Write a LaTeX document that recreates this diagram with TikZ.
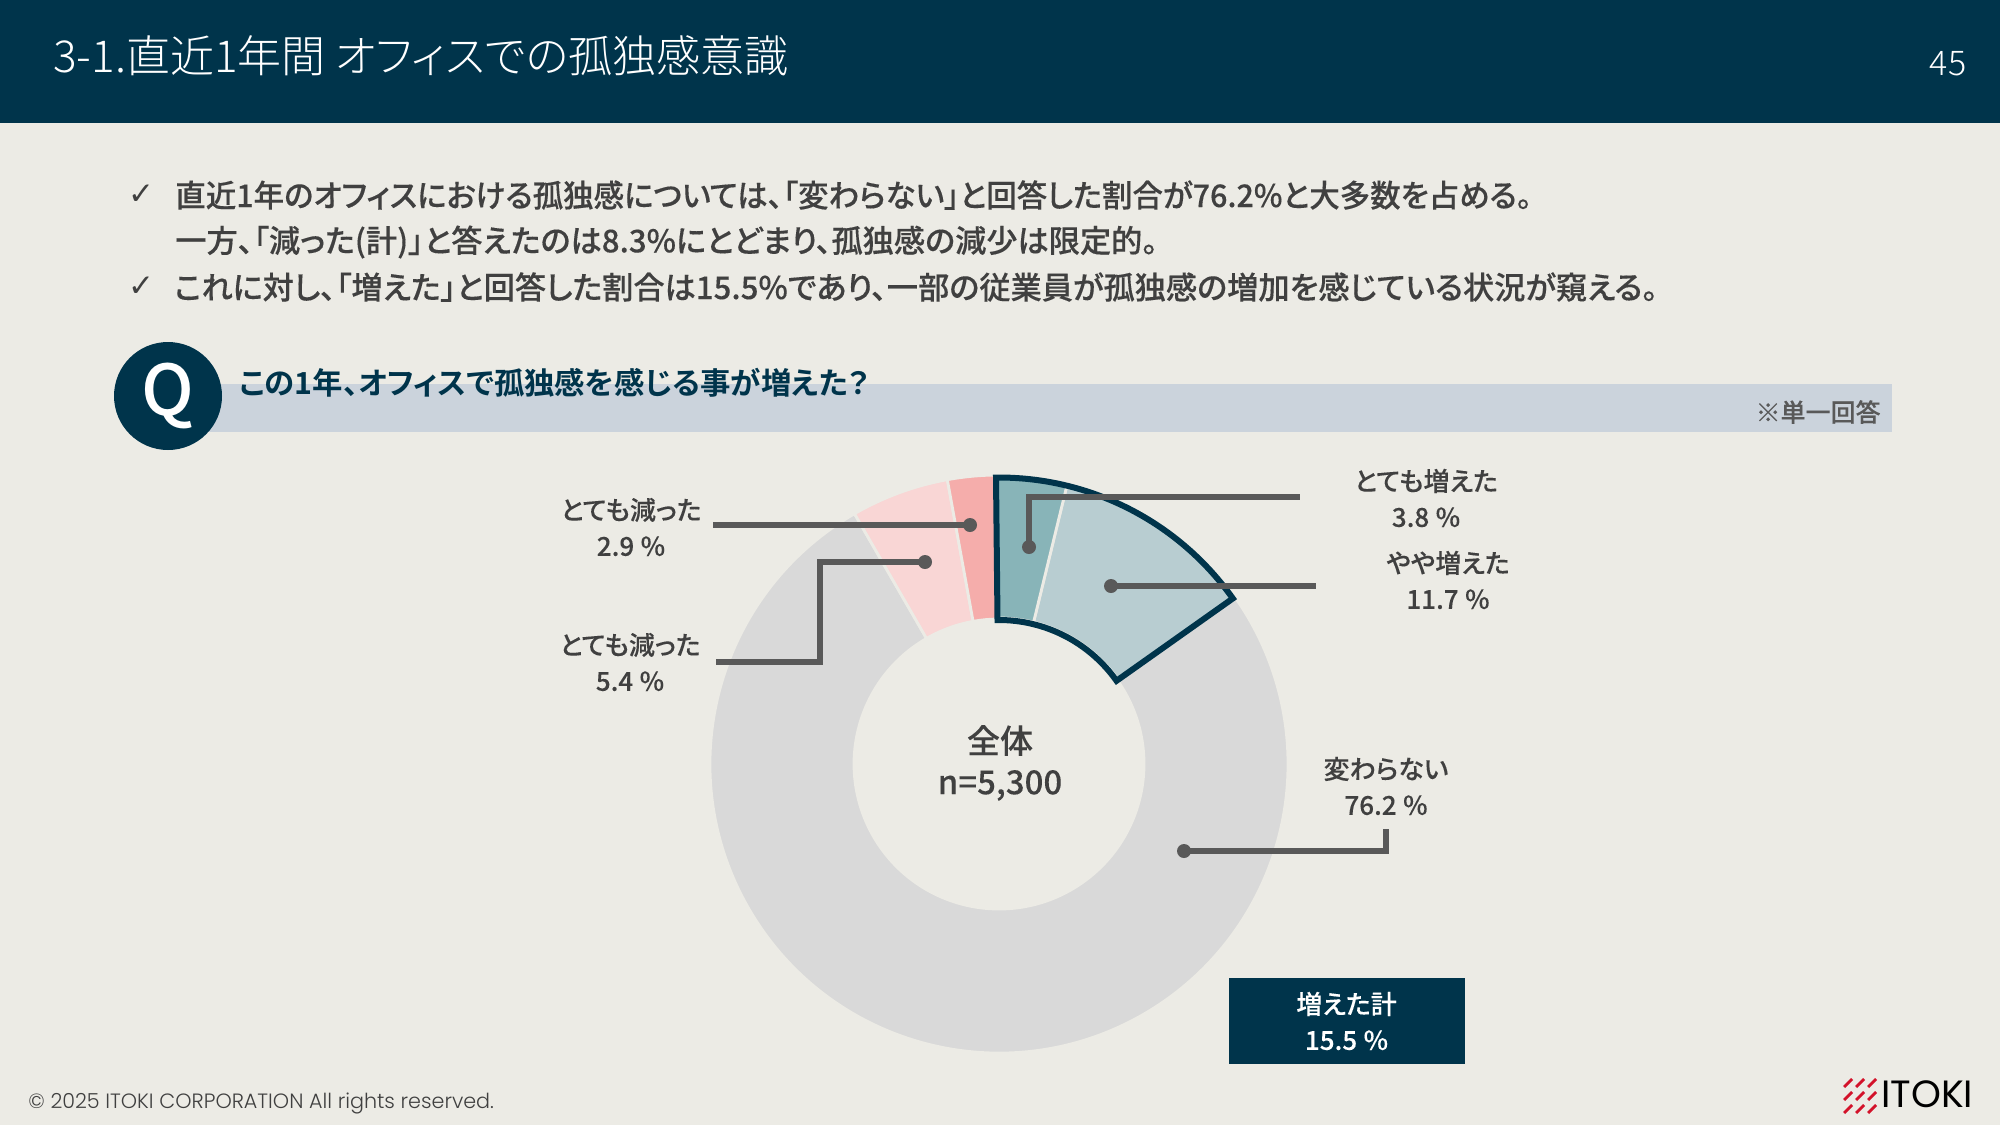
\documentclass[tikz,border=0pt]{standalone}
\usepackage{fontspec}
\setmainfont{Noto Sans CJK JP}[RawFeature=+palt]
\IfFontExistsTF{Noto Sans CJK JP Medium}{\newfontfamily\medf{Noto Sans CJK JP Medium}[RawFeature={+palt},FakeBold=0.25]\newfontfamily\medp{Noto Sans CJK JP Medium}[RawFeature={+palt},FakeBold=0.08]\newfontfamily\medq{Noto Sans CJK JP Medium}[RawFeature={+palt}]}{\newfontfamily\medf{Noto Sans CJK JP}[RawFeature={+palt},FakeBold=0.4]\newfontfamily\medp{Noto Sans CJK JP}[RawFeature={+palt},FakeBold=0.25]\newfontfamily\medq{Noto Sans CJK JP}[RawFeature={+palt}]}
\IfFontExistsTF{Noto Sans CJK JP Light}{\newfontfamily\lightf{Noto Sans CJK JP Light}[RawFeature=+palt]}{\newfontfamily\lightf{Noto Sans CJK JP}[RawFeature=+palt]}
\newfontfamily\boldf{Noto Sans CJK JP Bold}[RawFeature=+palt]
\newfontfamily\chk{DejaVu Sans}
\newfontfamily\pop{Poppins}
\IfFontExistsTF{Poppins Light}{\newfontfamily\popl{Poppins Light}}{\newfontfamily\popl{Poppins}}
\definecolor{navy}{HTML}{00344B}
\definecolor{pagebg}{HTML}{ECEBE5}
\definecolor{bandc}{HTML}{CBD3DC}
\definecolor{txt}{HTML}{404040}
\definecolor{lead}{HTML}{595959}
\definecolor{grayseg}{HTML}{D9D9D9}
\definecolor{tealA}{HTML}{88B4B8}
\definecolor{tealB}{HTML}{B8CDD1}
\definecolor{pinkA}{HTML}{F5ADAB}
\definecolor{pinkB}{HTML}{F9D6D5}
\definecolor{itred}{HTML}{D3122A}
\newcommand\ringseg[4]{(#1:#3) arc[start angle=#1,end angle=#2,radius=#3*0.5pt] -- (#2:#4) arc[start angle=#2,end angle=#1,radius=#4*0.5pt] -- cycle}
\tikzset{
 seg/.style={draw=pagebg,line width=1.4pt},
 leader/.style={draw=lead,line width=2.6pt},
 leaddot/.style={circle,fill=lead,inner sep=0pt,minimum size=7pt},
 body/.style={anchor=west,inner sep=0pt,text=txt,font=\medf\fontsize{15.6}{18}\selectfont},
 tick/.style={inner sep=0pt,text=txt,font=\chk\fontsize{15.5}{16}\selectfont},
 lbl/.style={align=center,inner sep=0pt,text=txt,font=\medp\fontsize{13}{18}\selectfont},
 stripe/.style={draw=itred,line width=1.4pt},
}
\begin{document}
\begin{tikzpicture}[x=0.5pt,y=-0.5pt]
\useasboundingbox (0,0) rectangle (2000,1125);
\fill[pagebg] (0,0) rectangle (2000,1125);
\fill[navy] (0,0) rectangle (2000,123);
\node[anchor=west,inner sep=0pt,text=white,font=\lightf\fontsize{22}{26}\selectfont] (title) at (53,56) {3-1.直近1年間 オフィスでの孤独感意識};
\node[inner sep=0pt,text=white,font=\lightf\fontsize{17}{20}\selectfont] (page) at (1948,64) {45};
\node[tick] (c1) at (141,195) {✓};
\node[body] (b1) at (175,195) {\scalebox{.976}[1]{直近1年のオフィスにおける孤独感については、「変わらない」と回答した割合が76.2\%と大多数を占める。}};
\node[body] (b2) at (175,242) {一方、「減った(計)」と答えたのは8.3\%にとどまり、孤独感の減少は限定的。};
\node[tick] (c2) at (141,287) {✓};
\node[body] (b3) at (174,287) {これに対し、「増えた」と回答した割合は15.5\%であり、一部の従業員が孤独感の増加を感じている状況が窺える。};
\fill[bandc] (200,384) rectangle (1892,432);
\node[circle,fill=navy,inner sep=0pt,minimum size=54pt,text=white,font=\medq\fontsize{35}{40}\selectfont] (q) at (168,396) {\raisebox{-1.2pt}{Q}};
\node[anchor=west,inner sep=0pt,text=navy,font=\boldf\fontsize{15.2}{18}\selectfont] (qt) at (239,383) {この1年、オフィスで孤独感を感じる事が増えた？};
\node[anchor=east,inner sep=0pt,text=lead,font=\medp\fontsize{12.5}{14}\selectfont] (single) at (1881,412) {※単一回答};
\begin{scope}[shift={(999,764)},x=0.5pt,y=0.5pt]
\fill[grayseg,seg] \ringseg{120}{395}{289}{145};
\fill[pinkB,seg] \ringseg{100.3}{120}{289}{145};
\fill[pinkA,seg] \ringseg{90.6}{100.3}{289}{145};
\fill[tealB,seg] \ringseg{35.3}{76.3}{287}{146};
\fill[tealA,seg] \ringseg{76.3}{90.6}{287}{146};
\draw[navy,line width=3pt,line join=miter] \ringseg{90.6}{35.3}{286.5}{144};
\end{scope}
\node[leaddot] (d1) at (1029,547) {};
\node[leaddot] (d2) at (1111,586) {};
\node[leaddot] (d3) at (970,525) {};
\node[leaddot] (d4) at (925,562) {};
\node[leaddot] (d5) at (1184,851) {};
\coordinate (e1) at (1300,497);
\coordinate (e2) at (1316,586);
\coordinate (e3) at (713,525);
\coordinate (e4) at (716,662);
\coordinate (e5) at (1386,829);
\draw[leader] (d1.center) |- (e1);
\draw[leader] (d2.center) -- (e2);
\draw[leader] (d3.center) -- (e3);
\draw[leader] (d4.center) -- (820,562) |- (e4);
\draw[leader] (d5.center) -| (e5);
\node[lbl] (l1) at (1426,498) {とても増えた\\3.8\hspace{.25em}\%};
\node[lbl] (l2) at (1448,580) {やや増えた\\11.7\hspace{.25em}\%};
\node[lbl] (l3) at (631,527) {とても減った\\2.9\hspace{.25em}\%};
\node[lbl] (l4) at (630,662) {とても減った\\5.4\hspace{.25em}\%};
\node[lbl] (l5) at (1386,786) {変わらない\\76.2\hspace{.25em}\%};
\node[inner sep=0pt,align=center,text=txt,font=\medp\fontsize{16.5}{20.5}\selectfont] (tot) at (1000,763) {全体\\n=5,300};
\node[fill=navy,minimum width=118pt,minimum height=43pt,inner sep=0pt,align=center,text=white,font=\medp\fontsize{13}{18}\selectfont] (sum) at (1346.5,1021) {増えた計\\15.5\hspace{.25em}\%};
\node[anchor=west,inner sep=0pt,text=txt,font=\popl\fontsize{10.35}{12}\selectfont] (copy) at (28,1103) {© 2025 ITOKI CORPORATION  All rights reserved.};
\node[anchor=west,inner sep=0pt,text=black,font=\pop\fontsize{19}{20}\selectfont] (logo) at (1881,1094) {ITOKI};
\foreach \sx in {0,12,24}\foreach \sy in {0,13,26}{
  \draw[stripe] (1844+\sx,1087+\sy) -- (1852+\sx,1079+\sy);
}
\end{tikzpicture}
\end{document}
